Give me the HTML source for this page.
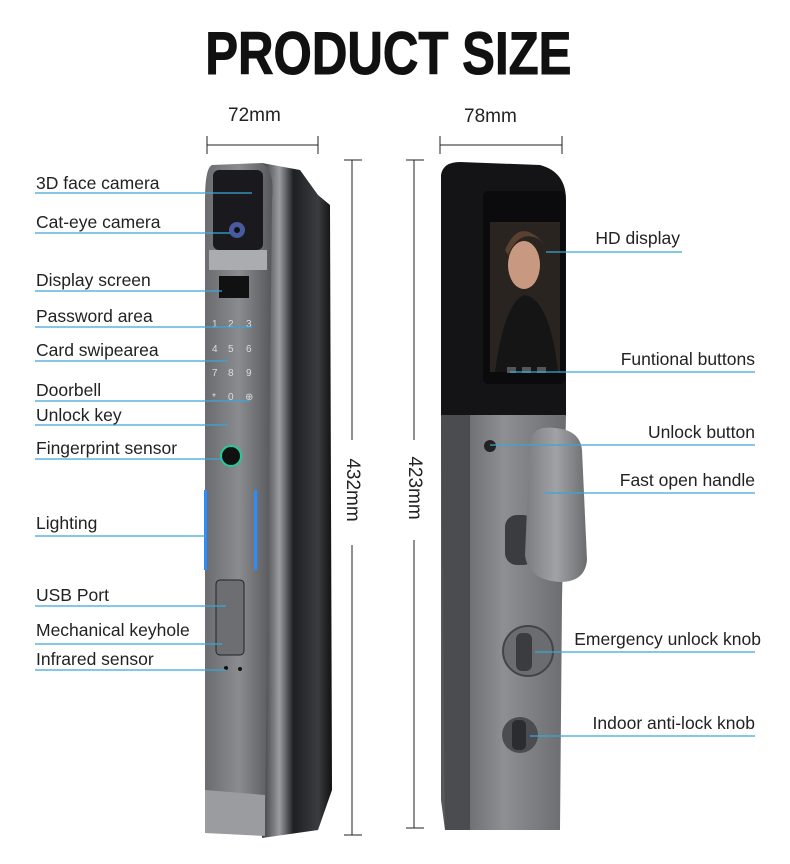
<!DOCTYPE html>
<html><head><meta charset="utf-8"><style>
html,body{margin:0;padding:0;background:#fff;}
body{width:790px;height:864px;position:relative;overflow:hidden;font-family:"Liberation Sans",sans-serif;}
.t{position:absolute;font-size:17.5px;color:#222;white-space:nowrap;line-height:20px;}
.r{position:absolute;right:35px;font-size:17.5px;color:#222;white-space:nowrap;line-height:20px;text-align:right;}
</style></head><body>
<svg width="790" height="864" style="position:absolute;left:0;top:0">
<defs>
<linearGradient id="fr" x1="0" x2="1"><stop offset="0" stop-color="#6a6c70"/><stop offset="0.5" stop-color="#8a8c90"/><stop offset="1" stop-color="#55575b"/></linearGradient>
<linearGradient id="sd" x1="0" x2="1"><stop offset="0" stop-color="#3a3b3e"/><stop offset="0.25" stop-color="#9a9ca0"/><stop offset="0.45" stop-color="#1e1f22"/><stop offset="0.8" stop-color="#3a3c40"/><stop offset="1" stop-color="#111"/></linearGradient>
<linearGradient id="pl" x1="0" x2="1"><stop offset="0" stop-color="#55575b"/><stop offset="0.5" stop-color="#8d8f93"/><stop offset="1" stop-color="#6a6c70"/></linearGradient>
<linearGradient id="hd" x1="0" x2="1"><stop offset="0" stop-color="#7a7c80"/><stop offset="0.5" stop-color="#a0a2a6"/><stop offset="1" stop-color="#6a6c70"/></linearGradient>
</defs>
<path d="M262 163 L300 170 L318 195 L330 205 L332 790 L318 830 L262 838 Z" fill="url(#sd)"/>
<path d="M212 165 L262 163 Q275 170 272 200 L265 835 L205 832 L205 200 Q205 168 212 165Z" fill="url(#fr)"/>
<path d="M205 790 L265 795 L265 836 L205 833Z" fill="#9a9ca0"/>
<rect x="213" y="170" width="50" height="80" rx="6" fill="#1a1a1e"/>
<rect x="209" y="250" width="58" height="20" fill="#aaacb0"/>
<circle cx="237" cy="230" r="8" fill="#4a5aa0"/><circle cx="237" cy="230" r="3" fill="#111"/>
<rect x="219" y="276" width="30" height="22" fill="#111"/>
<g fill="#ddd" font-size="10" font-family="Liberation Sans">
<text x="212" y="327">1</text><text x="228" y="327">2</text><text x="246" y="327">3</text>
<text x="212" y="352">4</text><text x="228" y="352">5</text><text x="246" y="352">6</text>
<text x="212" y="376">7</text><text x="228" y="376">8</text><text x="246" y="376">9</text>
<text x="212" y="400">*</text><text x="228" y="400">0</text><text x="245" y="400">⊕</text>
</g>
<circle cx="231" cy="456" r="10" fill="#111" stroke="#2c9" stroke-width="2"/>
<rect x="204" y="490" width="3" height="80" fill="#2a8cff"/><rect x="254" y="490" width="3" height="80" fill="#2a8cff"/>
<rect x="216" y="580" width="28" height="75" rx="4" fill="#6c6e72" stroke="#222"/>
<circle cx="226" cy="668" r="2" fill="#111"/><circle cx="240" cy="669" r="2" fill="#111"/>
<path d="M441 175 Q443 162 460 162 L540 165 Q566 172 566 200 L566 415 L441 415Z" fill="#141416"/>
<rect x="483" y="191" width="82" height="193" rx="5" fill="#0b0b0d"/>
<rect x="490" y="222" width="70" height="150" fill="#2a2420"/>
<ellipse cx="524" cy="265" rx="16" ry="24" fill="#c99880"/>
<path d="M505 250 Q520 215 545 245 L540 240 Q520 228 508 255Z" fill="#5a4030"/>
<path d="M495 372 Q505 300 525 295 Q550 300 558 372Z" fill="#151515"/>
<rect x="507" y="367" width="9" height="6" fill="#555"/><rect x="522" y="367" width="9" height="6" fill="#555"/><rect x="537" y="367" width="9" height="6" fill="#555"/>
<path d="M441 415 L566 415 L562 600 L560 830 L445 830 L441 800Z" fill="url(#pl)"/>
<path d="M441 415 L470 415 L470 830 L445 830Z" fill="#4a4c50"/>
<circle cx="490" cy="446" r="6" fill="#222"/>
<rect x="505" y="515" width="30" height="50" rx="12" fill="#3a3c40"/>
<path d="M530 440 Q535 425 555 428 Q580 430 582 450 L587 560 Q585 582 560 582 Q528 580 525 555Z" fill="url(#hd)"/>
<circle cx="528" cy="651" r="25" fill="#6a6c70" stroke="#444" stroke-width="2"/>
<rect x="516" y="633" width="16" height="38" rx="6" fill="#3a3c40"/>
<circle cx="520" cy="735" r="18" fill="#4a4c50"/>
<rect x="512" y="720" width="14" height="30" rx="5" fill="#2a2c30"/>
<g stroke="#222" stroke-width="1" fill="none">
<line x1="207" y1="145" x2="318" y2="145"/><line x1="207" y1="136" x2="207" y2="154"/><line x1="318" y1="136" x2="318" y2="154"/>
<line x1="440" y1="145" x2="562" y2="145"/><line x1="440" y1="136" x2="440" y2="154"/><line x1="562" y1="136" x2="562" y2="154"/>
<line x1="352" y1="160" x2="352" y2="440"/><line x1="352" y1="545" x2="352" y2="835"/><line x1="344" y1="160" x2="362" y2="160"/><line x1="344" y1="835" x2="362" y2="835"/>
<line x1="414" y1="160" x2="414" y2="440"/><line x1="414" y1="540" x2="414" y2="828"/><line x1="406" y1="160" x2="424" y2="160"/><line x1="406" y1="828" x2="424" y2="828"/>
</g>
<g stroke="#3aa6d6" stroke-width="1.2">
<line x1="35" y1="193" x2="252" y2="193"/><line x1="35" y1="233" x2="230" y2="233"/>
<line x1="35" y1="291" x2="222" y2="291"/><line x1="35" y1="327" x2="252" y2="327"/>
<line x1="35" y1="361" x2="228" y2="361"/><line x1="35" y1="401" x2="250" y2="401"/>
<line x1="35" y1="425" x2="228" y2="425"/><line x1="35" y1="459" x2="222" y2="459"/>
<line x1="35" y1="536" x2="206" y2="536"/><line x1="35" y1="606" x2="226" y2="606"/>
<line x1="35" y1="644" x2="222" y2="644"/><line x1="35" y1="670" x2="226" y2="670"/>
<line x1="546" y1="252" x2="682" y2="252"/><line x1="510" y1="372" x2="755" y2="372"/>
<line x1="490" y1="445" x2="755" y2="445"/><line x1="545" y1="493" x2="755" y2="493"/>
<line x1="535" y1="652" x2="755" y2="652"/><line x1="530" y1="736" x2="755" y2="736"/>
</g>
</svg>
<div style="position:absolute;left:0;top:22px;width:776px;text-align:center;white-space:nowrap"><span style="display:inline-block;font-weight:bold;font-size:60px;color:#111;line-height:64px;transform:scaleX(0.82);white-space:nowrap;-webkit-text-stroke:1px #111">PRODUCT SIZE</span></div>
<div class="t" style="left:228px;top:106px;font-size:19px">72mm</div>
<div class="t" style="left:464px;top:107px;font-size:19px">78mm</div>
<div class="t" style="left:316px;top:480px;font-size:19px;transform:rotate(90deg);width:72px;text-align:center">432mm</div>
<div class="t" style="left:378px;top:478px;font-size:19px;transform:rotate(90deg);width:72px;text-align:center">423mm</div>
<div class="t" style="left:36px;top:173px">3D face camera</div>
<div class="t" style="left:36px;top:212px">Cat-eye camera</div>
<div class="t" style="left:36px;top:270px">Display screen</div>
<div class="t" style="left:36px;top:306px">Password area</div>
<div class="t" style="left:36px;top:340px">Card swipearea</div>
<div class="t" style="left:36px;top:380px">Doorbell</div>
<div class="t" style="left:36px;top:405px">Unlock key</div>
<div class="t" style="left:36px;top:438px">Fingerprint sensor</div>
<div class="t" style="left:36px;top:513px">Lighting</div>
<div class="t" style="left:36px;top:585px">USB Port</div>
<div class="t" style="left:36px;top:620px">Mechanical keyhole</div>
<div class="t" style="left:36px;top:649px">Infrared sensor</div>
<div class="r" style="right:110px;top:228px">HD display</div>
<div class="r" style="top:349px">Funtional buttons</div>
<div class="r" style="top:422px">Unlock button</div>
<div class="r" style="top:470px">Fast open handle</div>
<div class="r" style="right:29px;top:629px">Emergency unlock knob</div>
<div class="r" style="top:713px">Indoor anti-lock knob</div>
</body></html>
